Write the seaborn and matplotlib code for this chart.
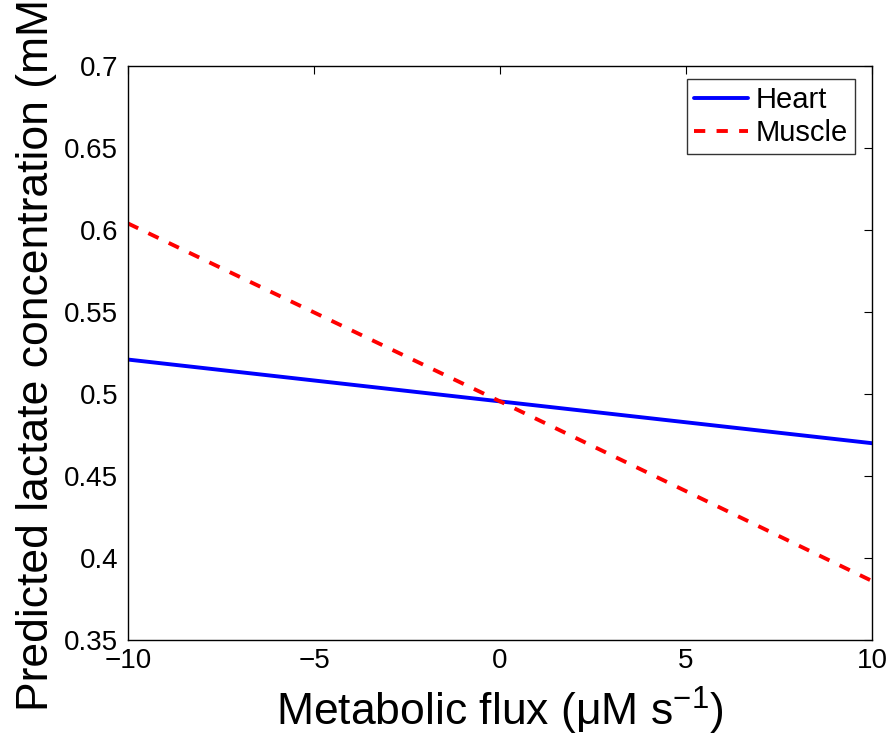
import matplotlib
matplotlib.use("Agg")
import matplotlib.pyplot as plt
import seaborn as sns
import pandas as pd

flux = [-10, 0, 10]
heart = [0.521, 0.4955, 0.470]
muscle = [0.604, 0.4955, 0.386]
series = ["Heart", "Muscle"]

df = pd.DataFrame({
    "flux": flux * 2,
    "conc": heart + muscle,
    "tissue": [series[0]] * len(flux) + [series[1]] * len(flux),
})

sns.set_style("white")
plt.rcParams["font.family"] = ["Liberation Sans", "DejaVu Sans"]
plt.rcParams["mathtext.fontset"] = "custom"
plt.rcParams["mathtext.rm"] = "Liberation Sans"
plt.rcParams["mathtext.it"] = "Liberation Sans:italic"
plt.rcParams["text.color"] = "black"
plt.rcParams["axes.labelcolor"] = "black"

fig = plt.figure(figsize=(8.88, 7.35), dpi=100)
ax = fig.add_axes([128 / 888, 1 - 640 / 735, 744 / 888, 574 / 735])

sns.lineplot(data=df, x="flux", y="conc", hue="tissue", style="tissue",
             palette={"Heart": "#0000ff", "Muscle": "#ff0000"},
             dashes={"Heart": "", "Muscle": (2.9, 2.9)},
             linewidth=2.8, ax=ax)

ax.set_xlim(-10, 10)
ax.set_ylim(0.35, 0.7)
ax.set_xticks([-10, -5, 0, 5, 10])
ax.set_xticklabels(["\u221210", "\u22125", "0", "5", "10"])
ax.set_yticks([0.35, 0.4, 0.45, 0.5, 0.55, 0.6, 0.65, 0.7])
ax.set_yticklabels(["0.35", "0.4", "0.45", "0.5", "0.55", "0.6", "0.65", "0.7"])
ax.tick_params(direction="in", length=6, width=0.8, labelsize=20, top=True, right=True,
               colors="black", labelcolor="black")
ax.tick_params(axis="y", pad=7)
ax.tick_params(axis="x", pad=6)
for s in ax.spines.values():
    s.set_visible(True)
    s.set_color("black")
    s.set_linewidth(1.0)

ax.set_xlabel("Metabolic flux (\u03bcM s$^{-1}$)", fontsize=32, color="black")
ax.set_ylabel("Predicted lactate concentration (mM)", fontsize=32, color="black")
ax.xaxis.set_label_coords(0.5, -0.078)
ax.yaxis.set_label_coords(-0.095, 0.509)

leg = ax.legend(loc="upper right", bbox_to_anchor=(0.977, 0.977), fontsize=21,
                frameon=True, fancybox=False, edgecolor="black", borderaxespad=0.0,
                handlelength=1.85, handletextpad=0.25, borderpad=0.25, labelspacing=0.15)
leg.get_frame().set_linewidth(1.0)
for t in leg.get_texts():
    t.set_color("black")

fig.savefig("out.png", dpi=100)
